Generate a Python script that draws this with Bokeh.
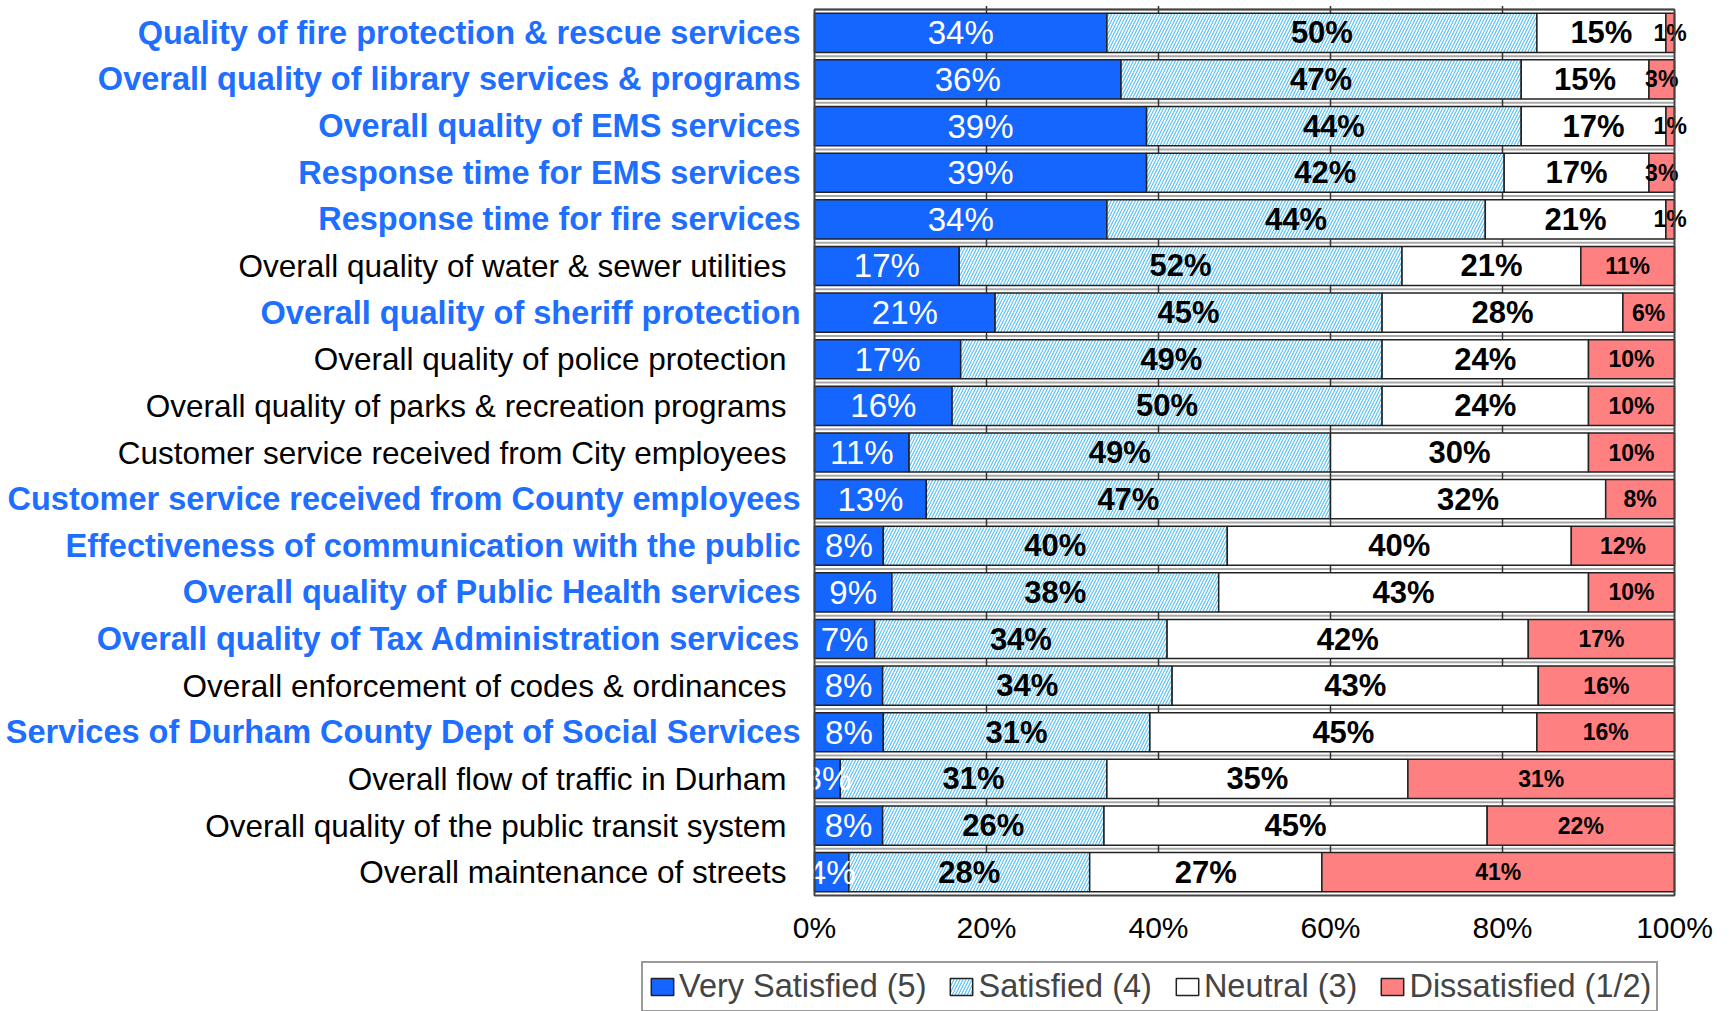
import numpy as np
from bokeh.plotting import figure
from bokeh.models import ColumnDataSource, Range1d, Legend, LegendItem
from bokeh.core.properties import value
from bokeh.embed import file_html
from bokeh.resources import INLINE

categories = [
    "Quality of fire protection & rescue services",
    "Overall quality of library services & programs",
    "Overall quality of EMS services",
    "Response time for EMS services",
    "Response time for fire services",
    "Overall quality of water & sewer utilities",
    "Overall quality of sheriff protection",
    "Overall quality of police protection",
    "Overall quality of parks & recreation programs",
    "Customer service received from City employees",
    "Customer service received from County employees",
    "Effectiveness of communication with the public",
    "Overall quality of Public Health services",
    "Overall quality of Tax Administration services",
    "Overall enforcement of codes & ordinances",
    "Services of Durham County Dept of Social Services",
    "Overall flow of traffic in Durham",
    "Overall quality of the public transit system",
    "Overall maintenance of streets",
]
county_service = [True, True, True, True, True, False, True, False, False, False,
                  True, True, True, True, False, True, False, False, False]
very_satisfied = [34, 36, 39, 39, 34, 17, 21, 17, 16, 11, 13, 8, 9, 7, 8, 8, 3, 8, 4]
satisfied = [50, 47, 44, 42, 44, 52, 45, 49, 50, 49, 47, 40, 38, 34, 34, 31, 31, 26, 28]
neutral = [15, 15, 17, 17, 21, 21, 28, 24, 24, 30, 32, 40, 43, 42, 43, 45, 35, 45, 27]
dissatisfied = [1, 3, 1, 3, 1, 11, 6, 10, 10, 10, 8, 12, 10, 17, 16, 16, 31, 22, 41]
series_names = ["Very Satisfied (5)", "Satisfied (4)", "Neutral (3)", "Dissatisfied (1/2)"]
x_ticks = [0, 0.2, 0.4, 0.6, 0.8, 1.0]
x_tick_labels = ["0%", "20%", "40%", "60%", "80%", "100%"]

FONT = "Liberation Sans"
BLUE_LABEL = "#1E6EFF"

n = len(categories)
vals = np.array([very_satisfied, satisfied, neutral, dissatisfied], dtype=float)
shares = vals / vals.sum(axis=0)
rights = np.cumsum(shares, axis=0)
lefts = rights - shares
ys = [n - i - 0.5 for i in range(n)]

W, H = 1725, 1011
PX_X = 860.0          # pixels per 100 %
X0 = 814.0            # pixel of 0 %
PX_Y = 886.0 / n      # pixels per row
Y_TOP = 9.0           # pixel of plot top
x_range = Range1d(-X0 / PX_X, 1 + (W - X0 - PX_X) / PX_X)
y_range = Range1d(-(H - Y_TOP - n * PX_Y) / PX_Y, n + Y_TOP / PX_Y)

p = figure(width=W, height=H, output_backend="svg", toolbar_location=None,
           x_range=x_range, y_range=y_range,
           x_axis_location=None, y_axis_location=None,
           min_border_left=0, min_border_right=0, min_border_top=0, min_border_bottom=0)
p.outline_line_color = None
p.xgrid.visible = False
p.ygrid.visible = False

styles = [
    dict(fill_color="#1565FF"),
    dict(fill_color="white", hatch_pattern="/", hatch_color="#5CC0F2", hatch_scale=6, hatch_weight=1.2),
    dict(fill_color="white"),
    dict(fill_color="#FF8080"),
]
label_styles = [
    dict(text_color="white", text_font_style="normal", text_font_size="33px"),
    dict(text_color="black", text_font_style="bold", text_font_size="31px"),
    dict(text_color="black", text_font_style="bold", text_font_size="31px"),
    dict(text_color="black", text_font_style="bold", text_font_size="23px"),
]

# row separators and small tick marks
bounds = list(range(1, n + 1))
p.segment(x0=[0] * len(bounds), x1=[1] * len(bounds), y0=bounds, y1=bounds,
          line_color="#a8a8a8", line_width=2)
tx, ty = [], []
for b in bounds:
    for t in x_ticks[1:-1]:
        tx.append(t)
        ty.append(b)
p.scatter(x=tx, y=ty, marker="dash", angle=np.pi / 2, size=7, line_color="#333", line_width=1.5)

renderers = []
for k in range(4):
    src = ColumnDataSource(dict(y=ys, left=lefts[k], right=rights[k]))
    r = p.hbar(y="y", left="left", right="right", height=0.84, source=src,
               line_color="#222", line_width=1.5, **styles[k])
    renderers.append(r)

for k in range(4):
    lsrc = ColumnDataSource(dict(x=(lefts[k] + rights[k]) / 2, y=ys,
                                 t=[f"{int(v)}%" for v in vals[k]]))
    p.text(x="x", y="y", text="t", source=lsrc, text_align="center", text_baseline="middle",
           text_font=value(FONT), **label_styles[k])

# plot-area border
p.quad(left=[x_ticks[0]], right=[x_ticks[-1]], bottom=[0], top=[n],
       fill_color=None, line_color="#444", line_width=2)

# category labels
for flag, color, style, size, off in [(True, BLUE_LABEL, "bold", "32.5px", -14),
                                      (False, "black", "normal", "31.5px", -28)]:
    idx = [i for i in range(n) if county_service[i] == flag]
    csrc = ColumnDataSource(dict(x=[0] * len(idx), y=[ys[i] for i in idx],
                                 t=[categories[i] for i in idx]))
    p.text(x="x", y="y", text="t", source=csrc, text_align="right", text_baseline="middle",
           x_offset=off, text_font=value(FONT), text_font_size=size,
           text_font_style=style, text_color=color)

# x-axis tick labels
p.text(x=x_ticks, y=[0] * len(x_ticks), text=x_tick_labels, y_offset=32,
       text_align="center", text_baseline="middle", text_font=value(FONT),
       text_font_size="30px", text_color="black")

legend = Legend(items=[LegendItem(label=series_names[k], renderers=[renderers[k]]) for k in range(4)],
                orientation="horizontal", location=(641, H - 964 - 48),
                label_text_font=FONT, label_text_font_size="32.5px", label_standoff=3,
                glyph_width=28, glyph_height=21, spacing=21, padding=5, margin=0,
                border_line_color="#333", border_line_width=2, background_fill_alpha=1.0)
p.add_layout(legend, "center")

open("out.html", "w").write(file_html(p, INLINE))
